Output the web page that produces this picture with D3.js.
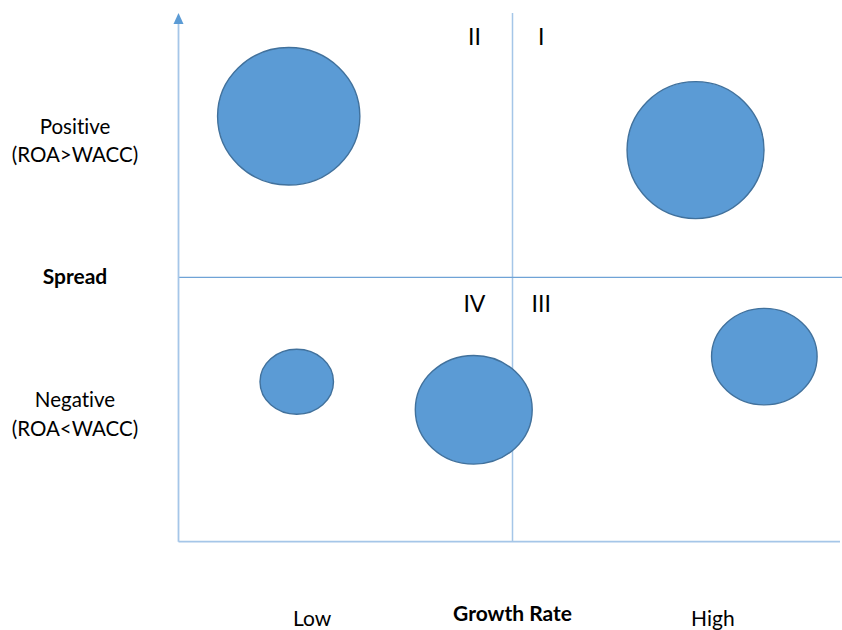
<!DOCTYPE html>
<html>
<head>
<meta charset="utf-8">
<script src="https://cdn.jsdelivr.net/npm/d3@7"></script>
<style>
  html, body { margin: 0; padding: 0; background: #ffffff; }
  svg { display: block; }
  text { font-family: Lato, "Open Sans", sans-serif; fill: #000; font-variant-ligatures: none; font-feature-settings: "liga" 0; }
</style>
</head>
<body>
<div id="chart"></div>
<script>
// Growth rate (x, 0..10, midpoint 5) vs spread (y, -10..10, midpoint 0)
const bubbleNames = ["A", "B", "C", "D", "E"];
const growthValues = [1.65, 7.74, 8.77, 1.77, 4.42];
const spreadValues = [6.09, 4.81, -3.00, -3.95, -5.01];
// Bubble extents in axis units (horizontal width, vertical height)
const bubbleWidths = [2.13, 2.05, 1.58, 1.10, 1.75];
const bubbleHeights = [5.20, 5.18, 3.65, 2.46, 4.11];

const quadrantLabels = ["I", "II", "III", "IV"];
const quadrantX = [5.43, 4.43, 5.43, 4.43];
const quadrantY = [8.8, 8.8, -1.3, -1.3];

const xTickLabels = ["Low", "High"];
const xTickValues = [2.0, 8.0];
const yTickLabels = [["Positive", "(ROA>WACC)"], ["Negative", "(ROA<WACC)"]];
const yTickValues = [5.43, -4.92];

const width = 842, height = 630;
const svg = d3.select("#chart").append("svg")
  .attr("width", width).attr("height", height);

const x = d3.scaleLinear().domain([0, 10]).range([178.5, 846.5]);
const y = d3.scaleLinear().domain([-10, 10]).range([541.7, 12.9]);

const axisLight = "#a5c6e8";
const axisBlue = "#5b9bd5";

// Quadrant dividers
svg.append("line")
  .attr("x1", x(5)).attr("x2", x(5))
  .attr("y1", y(10)).attr("y2", y(-10))
  .attr("stroke", axisLight).attr("stroke-width", 1.5);
svg.append("line")
  .attr("x1", x(0)).attr("x2", width)
  .attr("y1", y(0)).attr("y2", y(0))
  .attr("stroke", "#6fa3d6").attr("stroke-width", 1.2);

// Axes
svg.append("line")
  .attr("x1", x(0)).attr("x2", 840)
  .attr("y1", y(-10)).attr("y2", y(-10))
  .attr("stroke", axisLight).attr("stroke-width", 1.8);
svg.append("line")
  .attr("x1", x(0)).attr("x2", x(0))
  .attr("y1", y(-10)).attr("y2", 22)
  .attr("stroke", axisLight).attr("stroke-width", 1.8);
// Arrowhead on the vertical axis
const ax = x(0);
svg.append("path")
  .attr("d", `M${ax},13 L${ax - 5},24 L${ax + 5},24 Z`)
  .attr("fill", axisBlue);

// Bubbles
svg.append("g").selectAll("ellipse")
  .data(bubbleNames.map((n, i) => ({
    name: n, gx: growthValues[i], sy: spreadValues[i],
    w: bubbleWidths[i], h: bubbleHeights[i]
  })))
  .join("ellipse")
  .attr("cx", d => x(d.gx))
  .attr("cy", d => y(d.sy))
  .attr("rx", d => (x(d.w) - x(0)) / 2)
  .attr("ry", d => (y(0) - y(d.h)) / 2)
  .attr("fill", "#5b9bd5")
  .attr("stroke", "#41719c")
  .attr("stroke-width", 1.4);

// Quadrant numerals
svg.append("g").selectAll("text")
  .data(quadrantLabels)
  .join("text")
  .attr("x", (d, i) => x(quadrantX[i]))
  .attr("y", (d, i) => y(quadrantY[i]))
  .attr("text-anchor", "middle")
  .style("font-size", "23px")
  .text(d => d);

// Y category labels
const yl = svg.append("g");
yTickLabels.forEach((lines, i) => {
  const t = yl.append("text")
    .attr("x", 75).attr("y", y(yTickValues[i]))
    .attr("text-anchor", "middle")
    .style("font-size", "20.5px");
  lines.forEach((ln, j) => {
    t.append("tspan").attr("x", 75).attr("dy", j === 0 ? 0 : 28.5).text(ln);
  });
});
svg.append("text")
  .attr("x", 75).attr("y", y(-0.25))
  .attr("text-anchor", "middle")
  .style("font-size", "21px").style("font-weight", "bold")
  .text("Spread");

// X category labels
svg.append("g").selectAll("text")
  .data(xTickLabels)
  .join("text")
  .attr("x", (d, i) => x(xTickValues[i]))
  .attr("y", 626)
  .attr("text-anchor", "middle")
  .style("font-size", "21px")
  .text(d => d);
svg.append("text")
  .attr("x", x(5)).attr("y", 621)
  .attr("text-anchor", "middle")
  .style("font-size", "21px").style("font-weight", "bold")
  .text("Growth Rate");
</script>
</body>
</html>
